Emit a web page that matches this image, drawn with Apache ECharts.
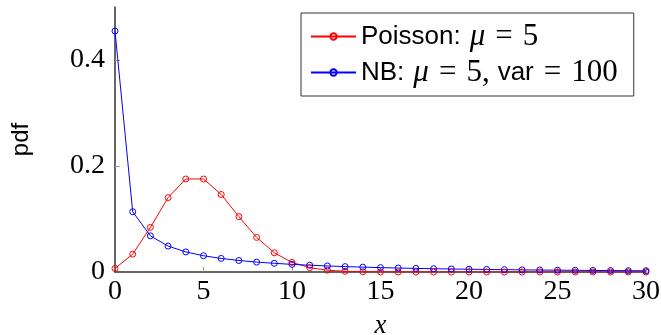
<!DOCTYPE html>
<html>
<head>
<meta charset="utf-8">
<script src="https://cdn.jsdelivr.net/npm/echarts@6/dist/echarts.min.js"></script>
<style>
  html, body { margin: 0; padding: 0; background: #fff; }
  #main { width: 661px; height: 335px; }
</style>
</head>
<body>
<div id="main"></div>
<script>
// x = 0..30
const xs = [0, 1, 2, 3, 4, 5, 6, 7, 8, 9, 10, 11, 12, 13, 14, 15,
  16, 17, 18, 19, 20, 21, 22, 23, 24, 25, 26, 27, 28, 29, 30];

const poisson = [0.0067, 0.0337, 0.0842, 0.1404, 0.1755, 0.1755, 0.1462, 0.1044,
  0.0653, 0.0363, 0.0181, 0.0082, 0.0034, 0.0013, 0.0005, 0.0002,
  0.0001, 0, 0, 0, 0, 0, 0, 0, 0, 0, 0, 0, 0, 0, 0];

const nb = [0.4546, 0.1137, 0.0682, 0.0489, 0.0379, 0.0307, 0.0256, 0.0217,
  0.0187, 0.0164, 0.0144, 0.0128, 0.0114, 0.0102, 0.0092, 0.0083,
  0.0075, 0.0068, 0.0062, 0.0057, 0.0052, 0.0048, 0.0044, 0.0040,
  0.0037, 0.0034, 0.0032, 0.0029, 0.0027, 0.0025, 0.0023];

const xTicks = [5, 10, 15, 20, 25, 30];
const yLabels = [0, 0.2, 0.4];
const yTicks = [0.2, 0.4];

const serif = '"Liberation Serif", "DejaVu Serif", serif';
const sans = '"Liberation Sans", "DejaVu Sans", sans-serif';

const chart = echarts.init(document.getElementById('main'));

const pair = ys => xs.map((x, i) => [x, ys[i]]);

function lineSeries(name, ys, color) {
  return {
    name: name,
    type: 'line',
    data: pair(ys),
    symbol: 'circle',
    symbolSize: 6,
    showAllSymbol: true,
    lineStyle: { width: 1, color: color },
    itemStyle: { color: 'rgba(255,255,255,0)', borderColor: color, borderWidth: 1 }
  };
}

const option = {
  animation: false,
  grid: { left: 115, right: 15, top: 7, bottom: 63, containLabel: false, outerBoundsMode: 'none' },
  legend: {
    orient: 'vertical',
    left: 301,
    top: 13,
    padding: [8, 16, 8, 9],
    itemGap: 5,
    itemWidth: 45,
    itemHeight: 8,
    borderColor: '#333',
    borderWidth: 1,
    data: ['Poisson', 'NB'],
    formatter: name => name === 'Poisson'
      ? '{s|Poisson:}{m|μ}{e|=}{r|5}'
      : '{s|NB:}{m|μ}{e|=}{r|5,}{v|var}{e|=}{r|100}',
    textStyle: {
      color: '#000',
      rich: {
        s: { fontFamily: sans, fontSize: 26, lineHeight: 30, color: '#000' },
        v: { fontFamily: sans, fontSize: 26, lineHeight: 30, color: '#000', padding: [0, 0, 0, 8] },
        m: { fontFamily: serif, fontStyle: 'italic', fontSize: 31, lineHeight: 30, color: '#000', padding: [0, 0, 0, 9] },
        e: { fontFamily: serif, fontSize: 31, lineHeight: 30, color: '#000', padding: [0, 10, 0, 10] },
        r: { fontFamily: serif, fontSize: 31, lineHeight: 30, color: '#000' }
      }
    }
  },
  xAxis: {
    type: 'value',
    min: 0,
    max: 30,
    interval: 5,
    name: 'x',
    nameLocation: 'middle',
    nameGap: 40,
    nameTextStyle: { fontFamily: serif, fontStyle: 'italic', fontSize: 27, color: '#000' },
    axisLine: { lineStyle: { color: '#333', width: 1.5 } },
    axisTick: { inside: true, length: 5, lineStyle: { color: '#999' }, customValues: xTicks },
    axisLabel: { fontFamily: serif, fontSize: 28, color: '#000', margin: 6 },
    splitLine: { show: false }
  },
  yAxis: {
    type: 'value',
    min: 0,
    max: 0.5,
    name: 'pdf',
    nameLocation: 'middle',
    nameGap: 82,
    nameRotate: 90,
    nameTextStyle: { fontFamily: sans, fontSize: 24, color: '#000' },
    axisLine: { show: true, lineStyle: { color: '#333', width: 1.5 } },
    axisTick: { show: true, inside: true, length: 5, lineStyle: { color: '#999' }, customValues: yTicks },
    axisLabel: {
      fontFamily: serif, fontSize: 28, color: '#000', margin: 10,
      customValues: yLabels,
      formatter: v => v === 0 ? '0' : String(v)
    },
    splitLine: { show: false }
  },
  series: [
    lineSeries('Poisson', poisson, '#ff0000'),
    lineSeries('NB', nb, '#0000ff')
  ]
};

option && chart.setOption(option);
</script>
</body>
</html>
